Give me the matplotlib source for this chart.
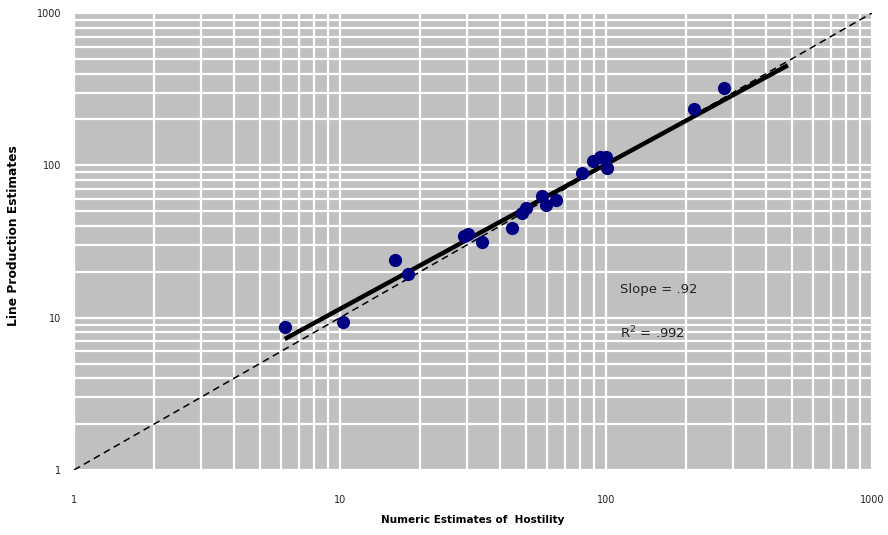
import numpy as np
import matplotlib
matplotlib.use("Agg")
from matplotlib import pyplot as plt

# values (log-log, both axes 1..1000)
hostility = [6.2, 10.3, 16.1, 18.0, 29.3, 30.4, 34.1, 44.2, 48.2, 49.9,
             57.3, 59.5, 64.7, 81.0, 89.6, 94.9, 100.0, 100.6, 214.7, 277.7]
line_prod = [8.7, 9.3, 23.9, 19.4, 34.4, 35.4, 31.6, 38.6, 48.9, 52.3,
             63.2, 55.0, 59.3, 88.7, 107.4, 114.0, 114.0, 95.7, 233.6, 323.7]

ref_line = [1, 1000]          # y = x reference
# trendline as drawn in the reference (log10 y = b + m log10 x)
fit_slope = 0.95
fit_icpt = 0.107
fit_x_end = 483               # trendline forecast end
tick_vals = [1, 10, 100, 1000]
tick_labels = ["1", "10", "100", "1000"]

fit_x = np.array([min(hostility), fit_x_end])
fit_y = 10 ** (fit_icpt + fit_slope * np.log10(fit_x))

fig = plt.figure(figsize=(8.88, 5.35), dpi=100)
ax = fig.add_axes([0.0833, 0.1215, 0.8986, 0.8542])
ax.set_facecolor("#c0c0c0")
ax.set_xscale("log")
ax.set_yscale("log")
ax.set_xlim(1, 1000)
ax.set_ylim(1, 1000)

ax.grid(True, which="both", color="white", linewidth=1.6)
ax.set_axisbelow(True)
for s in ax.spines.values():
    s.set_visible(False)

ax.plot(ref_line, ref_line, color="black", linewidth=1.1, linestyle=(0, (4.5, 3)), zorder=3)
ax.plot(fit_x, fit_y, color="black", linewidth=3.2, solid_capstyle="butt", zorder=4)
ax.plot(hostility, line_prod, linestyle="none", marker="o", markersize=9.5,
        color="#000080", markeredgewidth=0, zorder=5)

ax.set_xticks(tick_vals)
ax.set_xticklabels(tick_labels)
ax.set_yticks(tick_vals)
ax.set_yticklabels(tick_labels)
ax.xaxis.set_minor_formatter(matplotlib.ticker.NullFormatter())
ax.yaxis.set_minor_formatter(matplotlib.ticker.NullFormatter())
ax.tick_params(which="both", length=0)
ax.tick_params(axis="x", pad=18, labelsize=7, labelcolor="#222222")
ax.tick_params(axis="y", pad=9, labelsize=7, labelcolor="#222222")

ax.set_xlabel("Numeric Estimates of  Hostility", fontsize=7.5, fontweight="bold")
ax.xaxis.set_label_coords(0.5, -0.098)
ax.set_ylabel("Line Production Estimates", fontsize=8.8, fontweight="heavy")
ax.yaxis.set_label_coords(-0.068, 0.512)

ax.text(0.6845, 0.395, "Slope = .92", transform=ax.transAxes, fontsize=9.5,
        color="#222222", va="center")
ax.text(0.6845, 0.30, "R$^2$ = .992", transform=ax.transAxes, fontsize=9.5,
        color="#222222", va="center")

fig.savefig("out.png", dpi=100)
